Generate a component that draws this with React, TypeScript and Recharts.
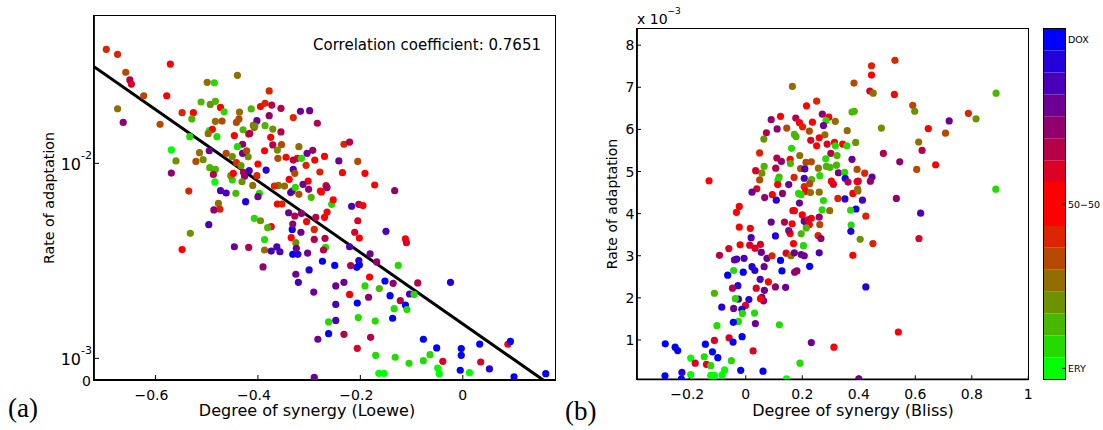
import React from 'react';
import { ScatterChart, Scatter, XAxis, YAxis, ReferenceLine, BarChart, Bar } from 'recharts';

const SANS = '"DejaVu Sans", Verdana, sans-serif';
const SERIF = '"Liberation Serif", "Times New Roman", serif';

// colormap bands, top (DOX) to bottom (ERY)
const mixColors = [
  '#0000ff', '#2400db', '#4900b6', '#6d0092', '#92006d', '#b60049', '#db0024', '#ff0000',
  '#ff0000', '#db2400', '#b64900', '#926d00', '#6d9200', '#49b600', '#24db00', '#00ff00',
];
const mixTickValues = [15.5, 8, 0.5];
const mixTickLabels = ['DOX', '50\u221250', 'ERY'];

// (a) Loewe synergy vs rate of adaptation (rate in units of 1e-3)
const loeweX = [
  -0.696, -0.674, -0.658, -0.650, -0.647, -0.623, -0.674, -0.663, -0.591, -0.571,
  -0.578, -0.548, -0.526, -0.499, -0.485, -0.440, -0.511, -0.493, -0.483, -0.473,
  -0.466, -0.529, -0.483, -0.470, -0.495, -0.489, -0.497, -0.480, -0.533, -0.569,
  -0.560, -0.569, -0.535, -0.514, -0.521, -0.507, -0.495, -0.494, -0.483, -0.487,
  -0.484, -0.473, -0.462, -0.477, -0.474, -0.486, -0.496, -0.532, -0.548, -0.446,
  -0.418, -0.390, -0.387, -0.387, -0.407, -0.395, -0.424, -0.443, -0.450, -0.453,
  -0.462, -0.450, -0.446, -0.442, -0.437, -0.436, -0.413, -0.429, -0.418, -0.407,
  -0.409, -0.402, -0.395, -0.386, -0.378, -0.373, -0.355, -0.386, -0.371, -0.378,
  -0.331, -0.317, -0.299, -0.284, -0.355, -0.375, -0.371, -0.354, -0.320, -0.323,
  -0.315, -0.306, -0.304, -0.293, -0.270, -0.242, -0.205, -0.232, -0.221, -0.289,
  -0.279, -0.235, -0.191, -0.172, -0.133, -0.267, -0.265, -0.278, -0.302, -0.312,
  -0.301, -0.296, -0.333, -0.331, -0.336, -0.328, -0.339, -0.327, -0.320, -0.348,
  -0.360, -0.368, -0.362, -0.353, -0.340, -0.328, -0.315, -0.305, -0.287, -0.270,
  -0.265, -0.256, -0.253, -0.276, -0.316, -0.333, -0.332, -0.335, -0.326, -0.290,
  -0.290, -0.269, -0.268, -0.272, -0.303, -0.322, -0.325, -0.332, -0.363, -0.374,
  -0.357, -0.374, -0.381, -0.326, -0.321, -0.300, -0.291, -0.274, -0.250, -0.248,
  -0.248, -0.248, -0.262, -0.262, -0.232, -0.283, -0.290, -0.232, -0.221, -0.221,
  -0.219, -0.207, -0.202, -0.203, -0.203, -0.217, -0.195, -0.205, -0.211, -0.202,
  -0.181, -0.168, -0.150, -0.112, -0.110, -0.126, -0.182, -0.152, -0.136, -0.088,
  -0.024, -0.191, -0.163, -0.184, -0.142, -0.104, -0.095, -0.122, -0.112, -0.109,
  -0.134, -0.206, -0.137, -0.204, -0.171, -0.180, -0.206, -0.170, -0.132, -0.105,
  -0.164, -0.154, -0.077, -0.064, -0.077, -0.051, -0.039, -0.049, -0.046, -0.003,
  -0.003, -0.005, 0.013, 0.033, 0.035, 0.052, 0.088, 0.093, 0.100, 0.162,
  -0.442, -0.448, -0.433, -0.428, -0.426, -0.431, -0.410, -0.400, -0.402, -0.384,
  -0.387, -0.419, -0.417, -0.430, -0.430, -0.422, -0.440, -0.416, -0.406, -0.362,
  -0.361, -0.397, -0.400, -0.331, -0.345,
];
const loeweRate = [
  15.26, 15.03, 14.20, 13.85, 13.66, 13.12, 12.52, 11.89, 11.80, 14.58,
  13.12, 12.34, 12.34, 13.74, 13.72, 14.06, 12.83, 12.72, 12.86, 12.58,
  12.38, 12.05, 11.94, 11.95, 11.51, 11.57, 11.37, 11.23, 11.23, 10.62,
  10.11, 9.55, 8.72, 10.49, 10.09, 10.17, 10.58, 9.80, 9.72, 9.49,
  9.14, 8.74, 8.63, 8.15, 7.88, 7.85, 7.17, 6.77, 6.02, 6.15,
  6.12, 5.22, 6.00, 6.48, 7.46, 7.35, 8.23, 8.62, 9.23, 9.43,
  10.46, 10.31, 11.28, 11.89, 12.05, 12.37, 12.51, 11.55, 11.35, 11.66,
  11.75, 11.97, 12.62, 12.77, 13.34, 12.69, 12.54, 11.74, 11.58, 12.20,
  12.11, 12.40, 12.43, 11.85, 11.45, 11.20, 10.85, 10.86, 10.77, 10.23,
  10.23, 9.91, 10.46, 10.60, 10.32, 10.11, 10.09, 10.88, 10.98, 10.15,
  9.60, 9.57, 9.54, 9.00, 8.74, 8.97, 8.88, 8.72, 9.18, 9.03,
  8.80, 8.43, 8.72, 9.72, 8.65, 9.54, 9.26, 8.89, 8.57, 8.95,
  8.98, 8.95, 8.12, 8.12, 7.72, 7.57, 7.69, 7.31, 7.51, 7.51,
  7.75, 8.11, 8.32, 8.68, 6.82, 6.95, 7.20, 6.57, 6.34, 6.95,
  6.49, 6.54, 6.12, 6.00, 5.86, 5.80, 6.08, 5.80, 6.14, 5.95,
  5.92, 7.08, 7.03, 4.88, 4.51, 5.08, 4.06, 5.48, 5.29, 4.34,
  3.49, 2.75, 2.68, 2.14, 2.11, 1.88, 0.12, 4.51, 3.95, 6.15,
  5.28, 5.20, 5.31, 5.51, 8.11, 8.02, 8.05, 7.35, 6.82, 6.55,
  5.82, 5.45, 6.86, 6.51, 6.34, 5.29, 4.75, 4.57, 4.46, 4.48,
  4.51, 4.34, 4.22, 3.82, 3.89, 3.97, 3.95, 3.66, 3.46, 3.25,
  3.29, 3.55, 2.85, 2.88, 2.72, 1.97, 1.46, 1.14, 1.05, 0.77,
  0.31, 0.31, 0.89, 1.17, 1.88, 1.48, 0.86, 0.55, 0.29, 1.45,
  1.14, 0.45, 0.34, 1.66, 0.83, 0.51, 1.65, 1.78, 0.15, 0.29,
  10.03, 9.54, 9.89, 9.58, 9.40, 9.15, 8.98, 9.97, 9.43, 9.69,
  10.58, 10.30, 9.66, 10.88, 10.46, 10.58, 10.77, 11.38, 11.72, 10.61,
  10.23, 8.62, 8.46, 10.15, 10.28,
];
const loeweMix = [
  9, 9, 10, 5, 6, 10, 11, 4, 10, 7,
  7, 9, 7, 11, 14, 11, 13, 12, 13, 7,
  14, 13, 11, 10, 15, 7, 11, 14, 14, 15,
  12, 4, 9, 11, 10, 12, 3, 13, 13, 5,
  15, 2, 2, 11, 9, 4, 2, 12, 7, 3,
  5, 4, 11, 14, 14, 12, 1, 13, 14, 12,
  10, 12, 7, 10, 10, 11, 13, 13, 7, 10,
  11, 3, 7, 9, 9, 5, 5, 13, 12, 4,
  9, 3, 3, 5, 5, 7, 5, 10, 11, 7,
  14, 9, 3, 4, 7, 3, 10, 9, 5, 7,
  9, 7, 7, 7, 4, 6, 4, 7, 7, 3,
  4, 13, 5, 2, 2, 10, 7, 14, 10, 11,
  11, 9, 7, 9, 3, 5, 4, 7, 5, 7,
  7, 14, 7, 7, 3, 0, 4, 7, 12, 9,
  5, 5, 14, 5, 3, 1, 3, 0, 2, 2,
  2, 7, 13, 3, 2, 1, 3, 0, 0, 3,
  2, 2, 14, 0, 5, 3, 3, 3, 7, 2,
  5, 0, 0, 1, 5, 2, 7, 6, 6, 7,
  3, 4, 2, 7, 6, 14, 7, 0, 4, 5,
  1, 14, 13, 4, 0, 2, 14, 5, 0, 14,
  14, 0, 0, 14, 14, 5, 6, 14, 14, 14,
  15, 15, 14, 14, 0, 0, 6, 15, 15, 0,
  0, 0, 15, 0, 6, 1, 7, 0, 0, 0,
  9, 7, 12, 5, 4, 12, 11, 7, 9, 1,
  7, 12, 2, 4, 3, 10, 14, 5, 12, 12,
  10, 14, 3, 5, 7,
];
const loeweFitX = [-0.72, 0.157];
const loeweFitRate = [14.46, 0];
const loeweXTicks = [-0.6, -0.4, -0.2, 0];
const loeweYTicks = [0, 1, 10];
const loeweYTickBase = ['0', '10', '10'];
const loeweYTickExp = ['', '-3', '-2'];

// (b) Bliss synergy vs rate of adaptation (rate in units of 1e-3)
const blissX = [
  -0.130, 0.165, 0.251, 0.215, 0.123, 0.090, 0.177, 0.190, 0.236, 0.201,
  0.294, 0.271, 0.317, 0.284, 0.275, 0.111, 0.073, 0.145, 0.225, 0.359,
  0.376, 0.384, 0.172, 0.178, 0.064, 0.280, 0.260, 0.230, 0.251, 0.288,
  0.314, 0.317, 0.343, 0.358, 0.389, 0.162, 0.049, 0.301, 0.323, 0.283,
  0.157, 0.110, 0.126, 0.191, 0.232, 0.213, 0.158, 0.065, 0.106, 0.057,
  0.035, 0.194, 0.257, 0.285, 0.298, 0.321, 0.328, 0.350, 0.394, 0.352,
  0.394, 0.303, 0.310, 0.262, 0.233, 0.207, 0.209, 0.171, 0.118, 0.114,
  0.049, 0.039, 0.113, 0.152, 0.207, 0.226, 0.212, 0.229, 0.260, 0.187,
  0.196, 0.130, 0.022, 0.067, 0.094, 0.108, 0.190, 0.275, 0.326, 0.351,
  0.379, 0.397, 0.390, 0.371, 0.297, 0.270, 0.167, 0.172, -0.023, -0.033,
  -0.023, 0.016, 0.019, -0.020, 0.014, 0.033, 0.052, -0.060, -0.093, -0.040,
  -0.032, -0.006, 0.055, 0.075, 0.093, 0.022, 0.032, -0.009, -0.064, -0.043,
  0.065, 0.051, 0.080, 0.105, 0.137, 0.090, 0.157, 0.152, 0.164, 0.200,
  0.207, 0.213, 0.225, 0.232, 0.221, 0.260, 0.262, 0.256, 0.266, 0.196,
  0.214, 0.204, 0.169, 0.143, 0.160, 0.172, 0.196, 0.207, 0.226, 0.260,
  0.173, 0.181, 0.123, 0.128, 0.141, 0.105, 0.037, 0.066, 0.057, 0.063,
  0.052, -0.028, -0.047, -0.026, -0.037, 0.011, -0.001, -0.014, -0.012, -0.043,
  -0.085, -0.111, 0.031, 0.034, -0.026, -0.044, -0.102, 0.119, -0.111, -0.059,
  -0.045, -0.013, 0.232, 0.312, -0.285, -0.250, -0.241, -0.143, -0.118, -0.099,
  0.026, -0.195, -0.147, -0.179, -0.139, -0.124, -0.051, -0.075, -0.018, 0.061,
  0.192, -0.286, -0.226, -0.228, -0.195, -0.124, -0.111, -0.084, 0.144, 0.400,
  0.379, 0.373, 0.372, 0.405, 0.528, 0.445, 0.445, 0.383, 0.439, 0.451,
  0.526, 0.886, 0.591, 0.598, 0.788, 0.815, 0.720, 0.646, 0.480, 0.707,
  0.612, 0.624, 0.487, 0.545, 0.376, 0.672, 0.605, 0.421, 0.447, 0.441,
  0.398, 0.362, 0.885, 0.396, 0.413, 0.533, 0.619, 0.425, 0.613, 0.450,
  0.425, 0.540,
];
const blissRate = [
  4.78, 7.02, 6.67, 6.56, 6.31, 6.23, 6.27, 6.16, 6.17, 6.06,
  6.29, 6.36, 6.19, 6.21, 6.09, 6.01, 5.92, 6.03, 5.96, 5.97,
  6.41, 6.43, 5.88, 5.83, 5.77, 5.87, 5.80, 5.74, 5.61, 5.65,
  5.69, 5.61, 5.65, 5.61, 5.69, 5.55, 5.44, 5.43, 5.38, 5.30,
  5.29, 5.32, 5.24, 5.38, 5.23, 5.22, 5.19, 5.12, 5.08, 4.96,
  5.02, 5.07, 5.08, 5.12, 5.10, 5.15, 4.97, 4.98, 5.05, 4.84,
  4.76, 4.77, 4.70, 4.90, 4.81, 4.84, 5.06, 4.86, 4.87, 4.80,
  4.80, 4.59, 4.69, 4.69, 4.64, 4.71, 4.53, 4.50, 4.51, 4.48,
  4.45, 4.48, 4.51, 4.38, 4.45, 4.32, 4.25, 4.31, 4.36, 4.35,
  4.48, 4.54, 4.11, 4.08, 4.07, 4.09, 4.07, 4.07, 4.17, 4.03,
  3.68, 3.65, 3.43, 3.26, 3.25, 3.18, 3.27, 3.17, 3.01, 2.90,
  2.92, 2.94, 3.08, 2.94, 3.00, 2.74, 2.65, 2.61, 2.54, 2.65,
  2.74, 2.44, 2.38, 3.47, 3.80, 3.80, 3.53, 3.60, 3.76, 3.97,
  3.82, 3.79, 3.74, 3.89, 3.85, 3.92, 3.74, 3.48, 3.41, 3.52,
  3.66, 3.24, 3.29, 3.06, 3.00, 3.07, 3.03, 3.00, 2.75, 3.07,
  2.61, 2.64, 2.89, 2.64, 2.25, 2.26, 2.23, 2.18, 2.01, 1.93,
  1.98, 2.29, 2.23, 1.97, 1.98, 1.96, 1.82, 1.73, 1.63, 1.75,
  1.78, 2.11, 1.64, 1.39, 1.44, 1.42, 1.34, 1.36, 0.99, 1.05,
  0.95, 1.08, 0.94, 0.83, 0.91, 0.83, 0.75, 0.90, 0.72, 0.58,
  0.74, 0.57, 0.60, 0.45, 0.42, 0.39, 0.51, 0.29, 0.28, 0.26,
  0.45, 0.15, 0.23, 0.07, 0.18, 0.16, 0.16, 0.17, 0.08, 0.08,
  3.01, 3.73, 3.58, 3.39, 7.64, 7.51, 7.29, 7.10, 6.91, 6.86,
  6.83, 6.86, 6.57, 6.43, 6.38, 6.25, 6.20, 6.02, 6.03, 5.91,
  5.70, 5.50, 5.43, 5.23, 5.29, 5.16, 5.05, 4.96, 4.87, 4.77,
  4.77, 4.75, 4.58, 4.58, 4.32, 4.36, 4.01, 3.94, 3.41, 3.29,
  2.26, 1.19,
];
const blissMix = [
  7, 11, 9, 7, 7, 4, 5, 7, 7, 9,
  7, 4, 11, 14, 3, 4, 5, 10, 10, 11,
  13, 13, 13, 13, 12, 11, 7, 6, 7, 6,
  7, 14, 7, 14, 12, 14, 9, 5, 13, 14,
  7, 5, 4, 11, 10, 10, 13, 13, 5, 12,
  6, 10, 11, 13, 13, 13, 3, 14, 10, 1,
  7, 7, 6, 14, 13, 2, 2, 9, 13, 14,
  10, 6, 7, 3, 9, 10, 7, 11, 11, 14,
  14, 4, 3, 4, 7, 1, 3, 14, 9, 1,
  7, 11, 0, 14, 11, 14, 6, 7, 7, 7,
  7, 7, 2, 7, 6, 6, 6, 6, 5, 3,
  2, 2, 3, 3, 9, 1, 1, 0, 0, 14,
  3, 2, 7, 1, 5, 3, 7, 4, 7, 7,
  3, 3, 7, 7, 6, 4, 10, 9, 4, 13,
  13, 14, 7, 6, 11, 3, 3, 3, 0, 2,
  4, 4, 0, 0, 3, 4, 6, 3, 3, 4,
  7, 1, 5, 2, 14, 1, 6, 1, 14, 3,
  1, 13, 14, 3, 14, 0, 14, 14, 6, 6,
  0, 0, 3, 7, 0, 0, 0, 0, 0, 0,
  6, 15, 14, 6, 6, 14, 14, 15, 0, 0,
  14, 0, 1, 0, 15, 15, 15, 15, 15, 3,
  7, 14, 1, 12, 9, 9, 7, 10, 6, 11,
  7, 13, 10, 12, 9, 12, 3, 7, 12, 10,
  11, 5, 5, 4, 3, 7, 10, 9, 2, 4,
  6, 5, 14, 11, 2, 4, 2, 9, 6, 9,
  1, 7,
];
const blissXTicks = [-0.2, 0, 0.2, 0.4, 0.6, 0.8, 1];
const blissYTicks = [1, 2, 3, 4, 5, 6, 7, 8];

const loeweRows = loeweX.map((x, i) => ({ x, y: loeweRate[i], mix: loeweMix[i] }));
const blissRows = blissX.map((x, i) => ({ x, y: blissRate[i], mix: blissMix[i] }));
const mixRow: Record<string, number | string> = { name: 'mix' };
mixColors.forEach((_, i) => { mixRow[`b${i}`] = 1; });

const frameLine = { stroke: '#000', strokeWidth: 1.8 };
const tickLine = { stroke: '#000', strokeWidth: 1 };

const fmtNum = (v: number) => (v < 0 ? '\u2212' + Math.abs(v) : String(v));

const Dot = (p: any) => {
  if (p.cx == null || p.cy == null) return <g />;
  return <circle cx={p.cx} cy={p.cy} r={3.6} fill={mixColors[p.payload.mix]} />;
};
// invisible marks: only used so the mirrored top/right axes get their ticks
const NoDot = () => <g />;

const BottomTick = (p: any) => (
  <text x={p.x + (p.payload.value < 0 ? p.shift : 0)} y={p.y + 19.5} textAnchor="middle"
    fontSize={14} fontFamily={SANS} fill="#000">{fmtNum(p.payload.value)}</text>
);

const LoeweYTick = (p: any) => {
  const i = loeweYTicks.indexOf(p.payload.value);
  if (loeweYTickExp[i] === '') {
    return <text x={p.x - 3} y={p.y + 5.5} textAnchor="end" fontSize={14} fontFamily={SANS} fill="#000">{loeweYTickBase[i]}</text>;
  }
  return (
    <text x={p.x - 2} y={p.y + 6.5} textAnchor="end" fontFamily={SANS} fill="#000">
      <tspan fontSize={16}>{loeweYTickBase[i]}</tspan>
      <tspan fontSize={11} dy={-11}>{loeweYTickExp[i]}</tspan>
    </text>
  );
};

const BlissYTick = (p: any) => (
  <text x={p.x - 2.5} y={p.y + 5} textAnchor="end" fontSize={14} fontFamily={SANS} fill="#000">{p.payload.value}</text>
);

const MixTick = (p: any) => (
  <text x={p.x + 3} y={p.y + 3.5} textAnchor="start" fontSize={9.5} fontFamily={SANS} fill="#000">
    {mixTickLabels[mixTickValues.indexOf(p.payload.value)]}
  </text>
);

const abs = (left: number, top: number): React.CSSProperties => ({ position: 'absolute', left, top });
const frame = (left: number, top: number, right: number, bottom: number): React.CSSProperties => ({
  position: 'absolute', left: left - 0.9, top: top - 0.9, width: right - left + 1.8, height: bottom - top + 1.8,
  border: '1.8px solid #000', boxSizing: 'border-box', pointerEvents: 'none',
});

export default function App() {
  return (
    <div style={{ position: 'absolute', left: 0, top: 0, width: 1103, height: 430, background: '#fff' }}>
      <div style={abs(0, 0)}>
        <ScatterChart width={560} height={430} margin={{ top: 16, right: 5, bottom: 0, left: 0 }}>
          <XAxis type="number" dataKey="x" domain={[-0.72, 0.18]} ticks={loeweXTicks} allowDataOverflow interval={0}
            height={50} axisLine={frameLine} tickLine={tickLine} tickSize={-5} tickMargin={5}
            tick={(p: any) => <BottomTick {...p} shift={-4} />} />
          <XAxis xAxisId="top" orientation="top" type="number" dataKey="x" domain={[-0.72, 0.18]} ticks={loeweXTicks}
            allowDataOverflow interval={0} height={0} axisLine={frameLine} tickLine={tickLine} tickSize={-5} tick={false} />
          <YAxis type="number" dataKey="y" domain={[0, 16.8]} ticks={loeweYTicks} allowDataOverflow interval={0}
            width={94} axisLine={frameLine} tickLine={tickLine} tickSize={-5} tickMargin={5} tick={LoeweYTick} />
          <YAxis yAxisId="right" orientation="right" type="number" dataKey="y" domain={[0, 16.8]} ticks={loeweYTicks}
            allowDataOverflow interval={0} width={0} axisLine={frameLine} tickLine={tickLine} tickSize={-5} tick={false} />
          <Scatter data={loeweRows} xAxisId="top" yAxisId="right" shape={NoDot} isAnimationActive={false} />
          <Scatter data={loeweRows} shape={Dot} isAnimationActive={false} />
          <ReferenceLine
            segment={[{ x: loeweFitX[0], y: loeweFitRate[0] }, { x: loeweFitX[1], y: loeweFitRate[1] }]}
            stroke="#000" strokeWidth={3} ifOverflow="hidden" />
        </ScatterChart>
      </div>
      <div style={frame(94, 16, 555, 380)} />

      <div style={abs(560, 0)}>
        <ScatterChart width={480} height={430} margin={{ top: 28.7, right: 11.7, bottom: 0, left: 0 }}>
          <XAxis type="number" dataKey="x" domain={[-0.385, 1]} ticks={blissXTicks} allowDataOverflow interval={0}
            height={50.7} axisLine={frameLine} tickLine={tickLine} tickSize={-4} tickMargin={4}
            tick={(p: any) => <BottomTick {...p} shift={-2} />} />
          <XAxis xAxisId="top" orientation="top" type="number" dataKey="x" domain={[-0.385, 1]} ticks={blissXTicks}
            allowDataOverflow interval={0} height={0} axisLine={frameLine} tickLine={tickLine} tickSize={-4} tick={false} />
          <YAxis type="number" dataKey="y" domain={[0.067, 8.39]} ticks={blissYTicks} allowDataOverflow interval={0}
            width={77} axisLine={frameLine} tickLine={tickLine} tickSize={-4} tickMargin={4} tick={BlissYTick} />
          <YAxis yAxisId="right" orientation="right" type="number" dataKey="y" domain={[0.067, 8.39]} ticks={blissYTicks}
            allowDataOverflow interval={0} width={0} axisLine={frameLine} tickLine={tickLine} tickSize={-4} tick={false} />
          <Scatter data={blissRows} xAxisId="top" yAxisId="right" shape={NoDot} isAnimationActive={false} />
          <Scatter data={blissRows} shape={Dot} isAnimationActive={false} />
        </ScatterChart>
      </div>
      <div style={frame(637, 28.7, 1028.3, 379.3)} />

      <div style={abs(1040, 0)}>
        <BarChart width={63} height={430} data={[mixRow]} margin={{ top: 28.7, right: 0, bottom: 50.7, left: 4 }}
          barCategoryGap={0} barGap={0}>
          <XAxis dataKey="name" hide />
          <YAxis type="number" orientation="right" domain={[0, 16]} ticks={mixTickValues} allowDataOverflow interval={0}
            width={38} axisLine={false} tickLine={tickLine} tickSize={-3} tickMargin={3} tick={MixTick} />
          {mixColors.map((_, i) => (
            <Bar key={i} dataKey={`b${i}`} stackId="mix" fill={mixColors[mixColors.length - 1 - i]} isAnimationActive={false} />
          ))}
        </BarChart>
      </div>
      <div style={frame(1044, 28.7, 1065, 379.3)} />

      <svg width={1103} height={430} style={{ ...abs(0, 0), pointerEvents: 'none' }}>
        <text x={541} y={49.8} textAnchor="end" fontSize={15} fontFamily={SANS} fill="#000">Correlation coefficient: 0.7651</text>
        <text x={307} y={416} textAnchor="middle" fontSize={16} fontFamily={SANS} fill="#000">Degree of synergy (Loewe)</text>
        <text x={853} y={416} textAnchor="middle" fontSize={16} fontFamily={SANS} fill="#000">Degree of synergy (Bliss)</text>
        <text transform="translate(54,198) rotate(-90)" textAnchor="middle" fontSize={14.2} fontFamily={SANS} fill="#000">Rate of adaptation</text>
        <text transform="translate(617,204) rotate(-90)" textAnchor="middle" fontSize={14} fontFamily={SANS} fill="#000">Rate of adaptation</text>
        <text x={637} y={24} fontFamily={SANS} fill="#000">
          <tspan fontSize={14}>x 10</tspan>
          <tspan fontSize={9} dy={-10}>{'\u22123'}</tspan>
        </text>
        <text x={8} y={417} fontSize={27} fontFamily={SERIF} fill="#000">(a)</text>
        <text x={565} y={420} fontSize={27} fontFamily={SERIF} fill="#000">(b)</text>
      </svg>
    </div>
  );
}
